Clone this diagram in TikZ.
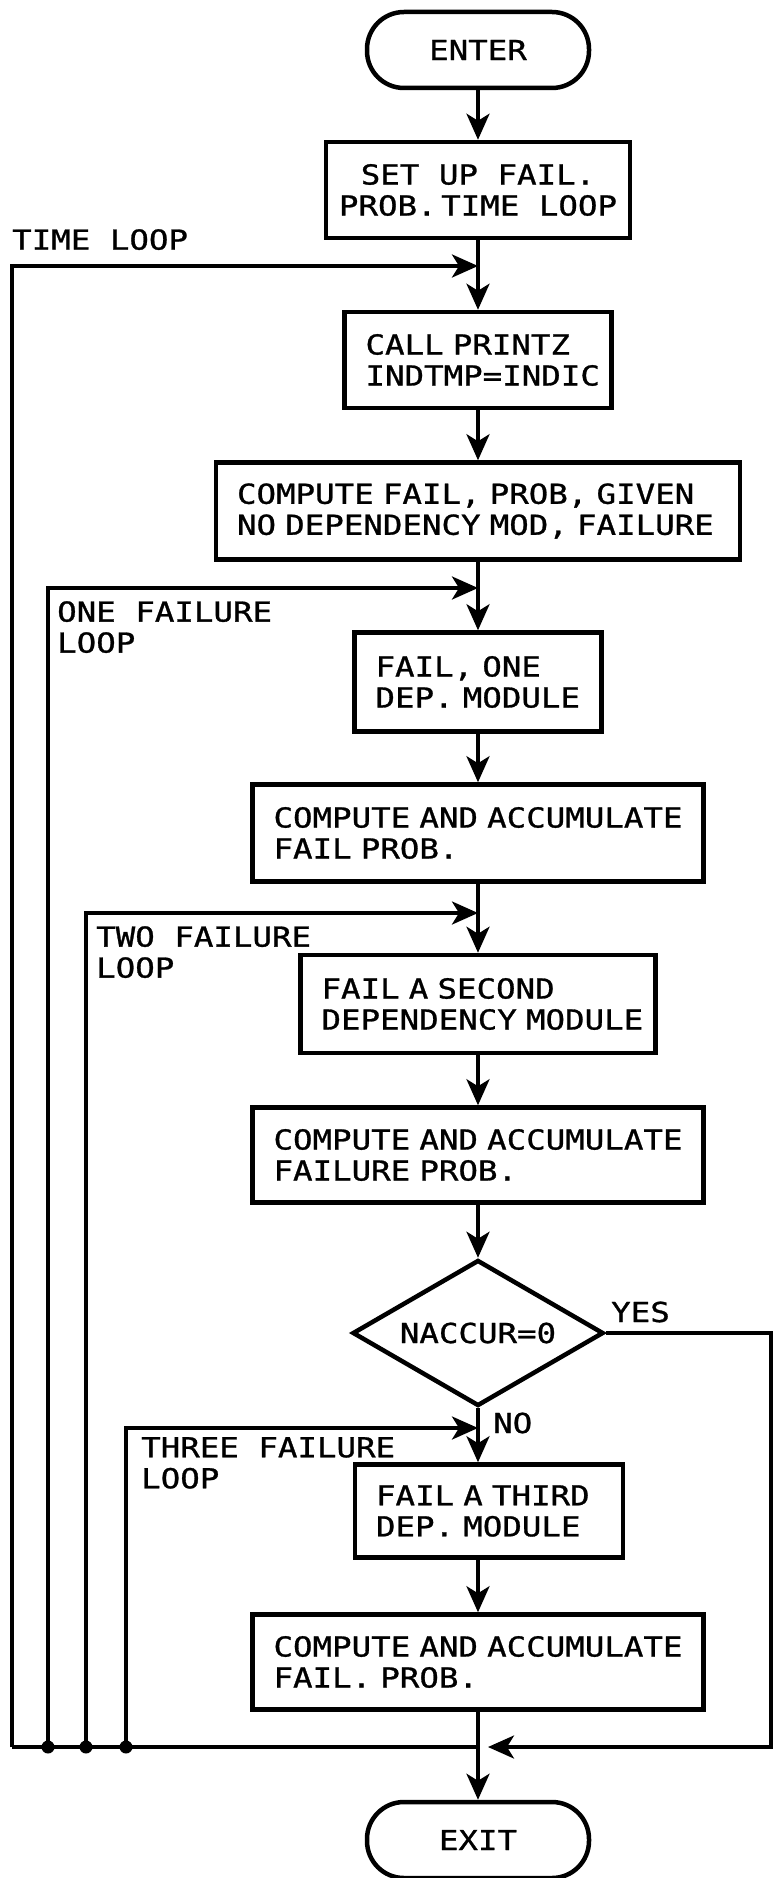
\documentclass[tikz,border=0pt]{standalone}
\usepackage{fontspec}
\newfontfamily\leroyfont[FakeStretch=1.18,FakeBold=1]{DejaVu Sans Mono}
\newcommand{\lfont}{\leroyfont\fontsize{27.5pt}{31pt}\selectfont\hyphenpenalty=10000\exhyphenpenalty=10000}
\newcommand{\tline}[1]{\mbox{#1}}
\usetikzlibrary{arrows.meta,shapes.geometric}
\begin{document}
\begin{tikzpicture}[x=1pt,y=-1pt,
  every node/.style={font=\lfont},
  pbox/.style={draw, line width=4.5pt, rectangle, align=left, inner xsep=21pt, inner ysep=0pt},
  cbox/.style={draw, line width=4.5pt, rectangle, align=center, inner xsep=0pt, inner ysep=0pt},
  term/.style={draw, line width=4.5pt, rectangle, rounded corners=37pt, minimum width=222pt, minimum height=76pt, inner sep=0pt},
  decide/.style={draw, line width=4.5pt, diamond, aspect=1.72, minimum width=251pt, minimum height=146pt, inner sep=0pt},
  flow/.style={line width=3.6pt},
  arr/.style={line width=3.6pt, -{Stealth[length=26pt,width=23pt,inset=7pt]}},
  lbl/.style={inner sep=0pt, align=left}]
\useasboundingbox (0,0) rectangle (773,1878);

% main column
\node[term] (enter) at (478,50) {ENTER};
\node[cbox, minimum width=304pt, minimum height=96pt] (setup) at (478,190) {\tline{SET UP FAIL.}\\\tline{PROB.\,TIME LOOP}};
\node[pbox, text width=225pt, minimum height=96pt] (callp) at (478,360) {\tline{CALL PRINTZ}\\\tline{INDTMP=INDIC}};
\node[pbox, text width=482pt, minimum height=97pt] (nodep) at (478,511) {\tline{COMPUTE FAIL, PROB, GIVEN}\\\tline{NO DEPENDENCY MOD, FAILURE}};
\node[pbox, text width=205pt, minimum height=99pt] (one) at (478,682) {\tline{FAIL, ONE}\\\tline{DEP. MODULE}};
\node[pbox, text width=409pt, minimum height=97pt] (acc1) at (478,833) {\tline{COMPUTE AND ACCUMULATE}\\\tline{FAIL PROB.}};
\node[pbox, text width=313pt, minimum height=98pt] (second) at (478,1004) {\tline{FAIL A SECOND}\\\tline{DEPENDENCY MODULE}};
\node[pbox, text width=409pt, minimum height=95pt] (acc2) at (478,1155) {\tline{COMPUTE AND ACCUMULATE}\\\tline{FAILURE PROB.}};
\node[decide] (d) at (478,1333) {NACCUR=0};
\node[pbox, text width=226pt, minimum height=93pt] (third) at (489,1511) {\tline{FAIL A THIRD}\\\tline{DEP. MODULE}};
\node[pbox, text width=409pt, minimum height=95pt] (acc3) at (478,1662) {\tline{COMPUTE AND ACCUMULATE}\\\tline{FAIL. PROB.}};
\node[term] (exit) at (478,1840) {EXIT};

% loop entry points on main line
\coordinate (t1) at (478,266);
\coordinate (t2) at (478,588);
\coordinate (t3) at (478,913);
\coordinate (t4) at (478,1428);
\coordinate (j) at (478,1747);
\coordinate (c0) at (12,1747);
\coordinate (c1) at (48,1747);
\coordinate (c2) at (86,1747);
\coordinate (c3) at (126,1747);
\coordinate (r1) at (771,1333);
\coordinate (r2) at (771,1747);

% main flow
\draw[arr] (enter) -- (setup);
\draw[arr] (setup) -- (callp);
\draw[arr] (callp) -- (nodep);
\draw[arr] (nodep) -- (one);
\draw[arr] (one) -- (acc1);
\draw[arr] (acc1) -- (second);
\draw[arr] (second) -- (acc2);
\draw[arr] (acc2) -- (d);
\draw[arr] (d.south) -- (d.south |- third.north);
\draw[arr] (acc3.north |- third.south) -- (acc3.north);
\draw[arr] (acc3) -- (exit);

% loops
\draw[flow] (j) -- (c0);
\draw[arr] (c0) |- (t1);
\draw[arr] (c1) |- (t2);
\draw[arr] (c2) |- (t3);
\draw[arr] (c3) |- (t4);
\fill (c1) circle (6.5pt);
\fill (c2) circle (6.5pt);
\fill (c3) circle (6.5pt);

% yes branch
\draw[arr, shorten >=10pt] (d.east) -- (r1) -- (r2) -- (j);

% labels
\node[lbl, anchor=north west] (ltime) at (12,229) {TIME LOOP};
\node[lbl, anchor=north west] (lone) at (57,601) {ONE FAILURE\\LOOP};
\node[lbl, anchor=north west] (ltwo) at (96,926) {TWO FAILURE\\LOOP};
\node[lbl, anchor=north west] (lthree) at (141,1437) {THREE FAILURE\\LOOP};
\node[lbl, anchor=base west] (lyes) at (611,1322) {YES};
\node[lbl, anchor=base west] (lno) at (493,1433) {NO};
\end{tikzpicture}
\end{document}
